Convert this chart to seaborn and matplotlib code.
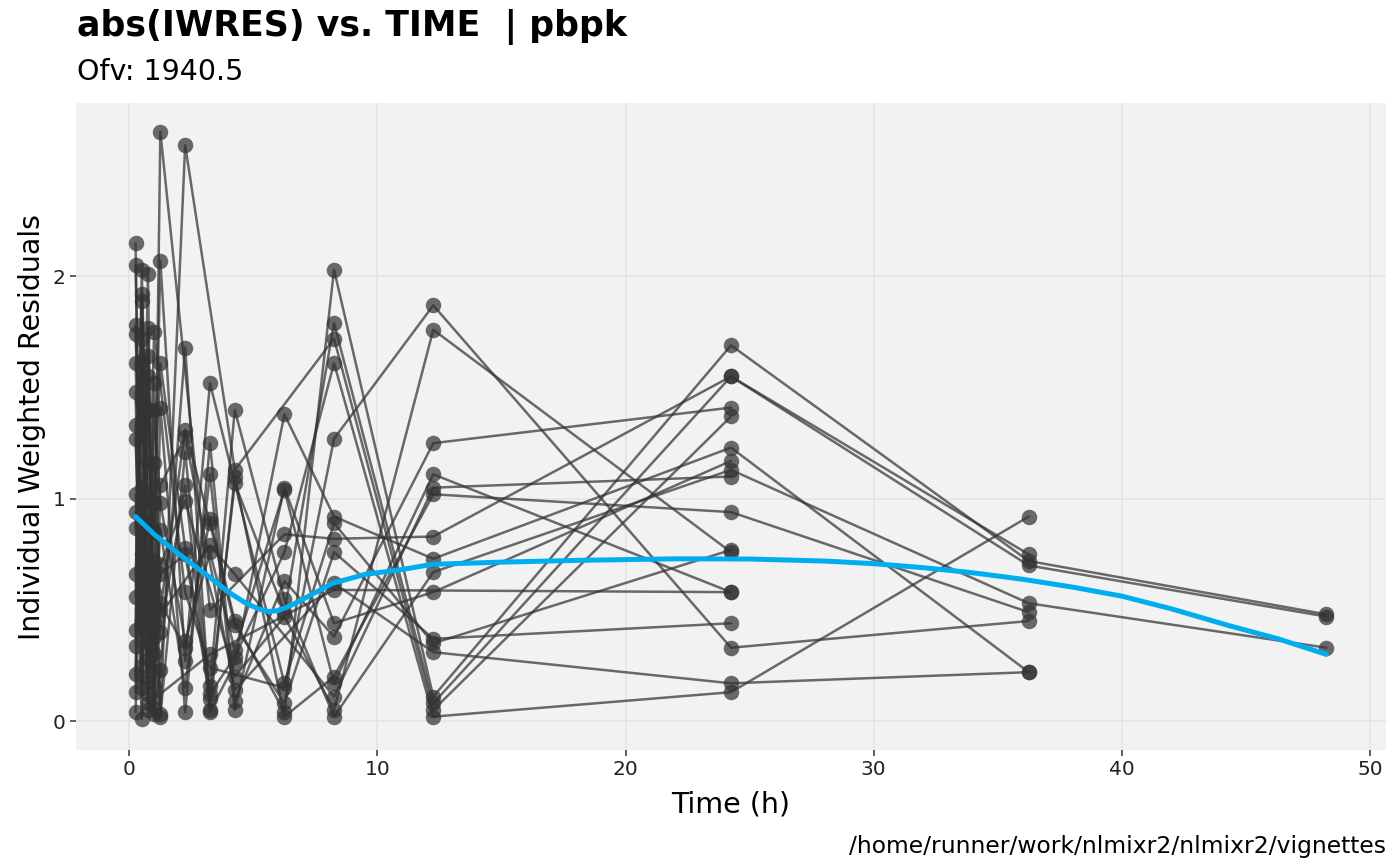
import numpy as np
import pandas as pd
import matplotlib
matplotlib.use("Agg")
import matplotlib.pyplot as plt
import seaborn as sns

# ---------------- data ----------------
times = [0.25, 0.5, 0.75, 1.0, 1.25, 2.25, 3.25, 4.25, 6.25, 8.25, 12.25, 24.25, 36.25, 48.25]

id01 = [1.02, 0.45, 1.64, 0.16, 0.53, 0.33, 0.91, 0.45, 0.04, 2.03, 0.11, 1.69, 0.72, 0.48]
id02 = [0.21, 1.62, 0.60, 1.16, 0.02, 1.21, 0.10, 1.07, 0.49, 1.79, 0.08, 1.55, 0.70, 0.47]
id03 = [1.74, 0.98, 0.28, 0.58, 2.65, None, 0.50, None, 0.84, 0.82, 0.83, 1.55, 0.75, None]
id04 = [0.56, 1.92, 1.01, 0.30, 1.41, 0.04, 1.25, 0.09, 0.63, 0.38, 1.25, 1.41, None, None]
id05 = [2.15, 0.25, 1.40, 0.72, 0.03, 2.59, None, 1.13, None, 1.72, 0.05, 1.37, None, None]
id06 = [0.87, 1.44, 0.05, 1.52, 0.40, 1.06, 0.04, 0.26, 1.38, 0.92, 0.73, 1.23, 0.22, None]
id07 = [1.33, 0.15, 1.77, 0.38, 0.86, 0.15, 1.11, 0.05, 1.05, 0.44, 0.58, 1.17, None, None]
id08 = [0.04, 1.05, 0.52, 0.98, 1.61, 0.78, 0.16, 1.40, 0.55, 0.02, 0.67, 1.13, 0.53, 0.33]
id09 = [1.61, 0.62, 0.12, 0.44, None, None, 0.79, 0.66, None, 0.11, 1.05, 1.10, None, None]
id10 = [0.41, 2.03, 0.90, 0.06, 0.23, 1.68, 0.05, 1.10, 0.02, 0.20, 1.02, 0.94, 0.49, None]
id11 = [2.05, 0.75, 1.17, 0.85, 2.07, 0.27, 1.52, None, 0.17, 0.89, 0.35, 0.77, None, None]
id12 = [0.94, 0.01, 1.55, 0.22, 0.70, 0.99, None, 0.20, 0.47, 0.05, 1.76, 0.76, None, None]
id13 = [0.13, 1.89, 0.35, 1.40, 0.98, 0.36, 0.76, 0.32, 1.04, 0.17, 1.11, 0.58, None, None]
id14 = [1.27, 0.50, 2.01, 0.10, None, None, 0.30, None, None, 0.59, None, 0.58, None, None]
id15 = [0.66, 1.34, 0.08, 0.65, 0.50, 1.31, 0.89, 0.43, 0.08, 0.76, 0.37, 0.44, None, None]
id16 = [1.48, 0.20, 0.70, 1.75, None, 0.58, 0.24, None, 0.15, 1.27, 1.87, 0.33, 0.45, None]
id17 = [0.34, 1.72, 0.47, 0.03, 1.06, 1.28, None, 0.14, None, 0.62, 0.31, 0.17, 0.22, None]
id18 = [1.78, 0.86, 0.18, 0.50, 0.66, 0.75, 0.12, 0.29, 0.76, 1.61, 0.02, 0.13, 0.92, None]

# smooth (loess) curve
smooth_time = [0.25, 1.0, 1.9, 2.6, 3.2, 4.0, 4.7, 5.2, 5.6, 6.0, 6.5, 7.2, 8.2, 9.5, 10.9,
               12.2, 15.0, 18.1, 22.1, 25.0, 28.0, 30.0, 32.0, 34.0, 36.0, 38.0, 40.0, 42.0,
               44.3, 46.3, 48.25]
smooth_value = [0.92, 0.84, 0.76, 0.70, 0.65, 0.58, 0.53, 0.505, 0.493, 0.497, 0.52, 0.56, 0.62,
                0.66, 0.68, 0.705, 0.715, 0.723, 0.73, 0.729, 0.72, 0.708, 0.69, 0.667, 0.638,
                0.603, 0.562, 0.505, 0.43, 0.37, 0.30]

x_ticks = [0, 10, 20, 30, 40, 50]
y_ticks = [0, 1, 2]

title = "abs(IWRES) vs. TIME  | pbpk"
subtitle = "Ofv: 1940.5"
x_label = "Time (h)"
y_label = "Individual Weighted Residuals"
caption = "/home/runner/work/nlmixr2/nlmixr2/vignettes"

# ---------------- build long table ----------------
subjects = [id01, id02, id03, id04, id05, id06, id07, id08, id09,
            id10, id11, id12, id13, id14, id15, id16, id17, id18]
rows = []
for k, vals in enumerate(subjects, start=1):
    for t, v in zip(times, vals):
        if v is not None:
            rows.append((k, t, v))
df = pd.DataFrame(rows, columns=["ID", "TIME", "IWRES"])
smooth_df = pd.DataFrame({"TIME": smooth_time, "IWRES": smooth_value})

# ---------------- plot ----------------
sns.set_theme(style="white")
plt.rcParams['font.family'] = ['DejaVu Sans']

W, H = 1400, 865
fig = plt.figure(figsize=(W / 100, H / 100), dpi=100)
L, R, T, B = 76, 1386, 103, 750
ax = fig.add_axes([L / W, 1 - B / H, (R - L) / W, (B - T) / H])
ax.set_facecolor('#F2F2F2')

sns.lineplot(data=df, x="TIME", y="IWRES", units="ID", estimator=None, sort=False,
             color='#333333', alpha=0.72, lw=1.8, ax=ax, zorder=2)
sns.scatterplot(data=df, x="TIME", y="IWRES", color='#333333', alpha=0.72,
                s=125, linewidth=0, ax=ax, zorder=3)
sns.lineplot(data=smooth_df, x="TIME", y="IWRES", color='#00AEEF', lw=3.6, ax=ax, zorder=4)

ax.set_xlim(-2.15, 50.65)
ax.set_ylim(-0.13, 2.78)
ax.set_xticks(x_ticks)
ax.set_yticks(y_ticks)
ax.grid(True, color='#E3E3E3', lw=1.1)
ax.set_axisbelow(True)
for s in ax.spines.values():
    s.set_visible(False)
ax.tick_params(axis='both', which='major', length=4.5, width=1.1, color='#333333',
               labelcolor='#222222', labelsize=14.5, pad=3, bottom=True, left=True)
ax.set_xlabel("")
ax.set_ylabel("")

fig.text(77 / W, 1 - 36 / H, title, fontsize=25, fontweight='bold', color='black',
         ha='left', va='baseline')
fig.text(77 / W, 1 - 80 / H, subtitle, fontsize=20.5, color='black', ha='left', va='baseline')
fig.text((L + R) / 2 / W, 1 - 812 / H, x_label, fontsize=20.5, color='black',
         ha='center', va='baseline')
fig.text(32 / W, 1 - (T + B) / 2 / H, y_label, fontsize=20.5, color='black',
         ha='center', va='center', rotation=90)
fig.text(R / W, 1 - 853 / H, caption, fontsize=16.8, color='black', ha='right', va='baseline')

fig.savefig("out.png", dpi=100)
